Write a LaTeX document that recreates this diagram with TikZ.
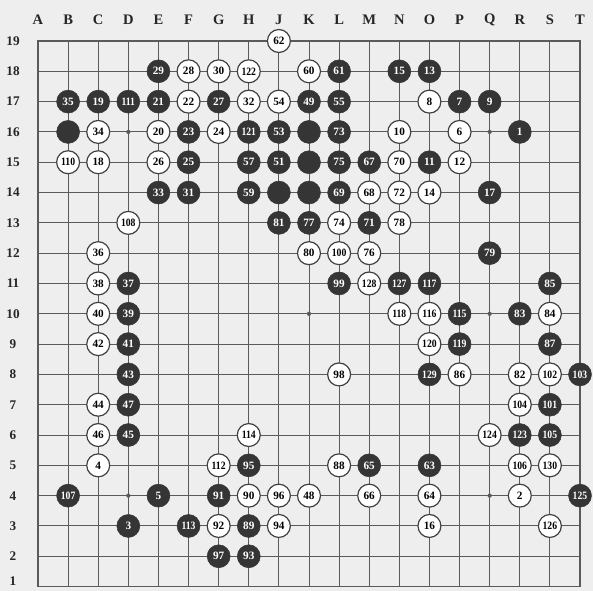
\documentclass[tikz,border=0pt]{standalone}
\usepackage{fontspec}
\setmainfont{Liberation Serif}
\usepackage{xcolor}
\usetikzlibrary{arrows.meta, positioning}

\definecolor{paper}{HTML}{EEEEEE}
\definecolor{gridcol}{HTML}{5A5A5A}
\definecolor{stoneblk}{HTML}{353535}
\newcommand{\mvnum}[1]{\ifnum#1>99 \scalebox{.86}[1]{#1}\else #1\fi}

\begin{document}
\begin{tikzpicture}[
  x=0.8cm, y=0.8053cm,
  every node/.style={font=\bfseries},
  gridline/.style={draw=gridcol, line width=0.7pt},
  border/.style={draw=gridcol, line width=1pt},
  collab/.style={font=\bfseries\fontsize{11}{11}\selectfont, text=black!85},
  rowlab/.style={font=\bfseries\fontsize{10}{10}\selectfont, text=black!85},
  bstone/.style={circle, draw=stoneblk, fill=stoneblk, text=white, minimum size=0.61cm, inner sep=0pt, font=\bfseries\fontsize{8.5}{8.5}\selectfont},
  wstone/.style={circle, draw=black!75, line width=0.9pt, fill=white, text=black, minimum size=0.61cm, inner sep=0pt, font=\bfseries\fontsize{8.5}{8.5}\selectfont},
]

 % ---- paper and frame ----
 \fill[paper] (-0.262,0.868) rectangle (19.432,20.353);
 \useasboundingbox (-0.262,0.868) rectangle (19.432,20.353);

 % ---- points of the board ----
 \foreach \l [count=\i] in {A,B,C,D,E,F,G,H,J,K,L,M,N,O,P,Q,R,S,T} {
   \foreach \r in {1,...,19} {
     \coordinate (\l\r) at (\i,\r);
   }
   \node[collab] (col\l) at (\i,19.69) {\l};
 }
 \foreach \r in {2,...,19} {
   \node[rowlab] (row\r) at (0.17,\r) {\r};
 }
 \node[rowlab, anchor=south] (row1) at (0.17,0.87) {1};

 % ---- grid ----
 \foreach \r in {2,...,18} {
   \draw[gridline] (A\r) -- (T\r);
 }
 \foreach \l in {B,C,D,E,F,G,H,J,K,L,M,N,O,P,Q,R,S} {
   \draw[gridline] (\l1) -- (\l19);
 }
 \draw[border] (A1) rectangle (T19);
 \foreach \p in {D4,K4,Q4,D10,K10,Q10,D16,K16,Q16} {
   \fill[gridcol] (\p) circle (1.6pt);
 }

 % ---- black stones ----
 \foreach \p in {B16,K16,K15,J14,K14} {
   \node[bstone] (b-\p) at (\p) {};
 }
 \foreach \p/\n in {R16/1, D3/3, E4/5, P17/7, Q17/9, O15/11, O18/13, N18/15, Q14/17, C17/19,
   E17/21, F16/23, F15/25, G17/27, E18/29, F14/31, E14/33, B17/35, D11/37, D10/39,
   D9/41, D8/43, D6/45, D7/47, K17/49, J15/51, J16/53, L17/55, H15/57, H14/59,
   L18/61, O5/63, M5/65, M15/67, L14/69, M13/71, L16/73, L15/75, K13/77, Q12/79,
   J13/81, R10/83, S11/85, S9/87, H3/89, G4/91, H2/93, H5/95, G2/97, L11/99,
   S7/101, T8/103, S6/105, B4/107, D17/111, F3/113, P10/115, O11/117, P9/119,
   H16/121, R6/123, T4/125, N11/127, O8/129} {
   \node[bstone] (m\n) at (\p) {\mvnum{\n}};
 }

 % ---- white stones ----
 \foreach \p/\n in {R4/2, C5/4, P16/6, O17/8, N16/10, P15/12, O14/14, O3/16, C15/18, E16/20,
   F17/22, G16/24, E15/26, F18/28, G18/30, H17/32, C16/34, C12/36, C11/38, C10/40,
   C9/42, C7/44, C6/46, K4/48, J17/54, K18/60, J19/62, O4/64, M4/66, M14/68,
   N15/70, N14/72, L13/74, M12/76, N13/78, K12/80, R8/82, S10/84, P8/86, L5/88,
   H4/90, G3/92, J3/94, J4/96, L8/98, L12/100, S8/102, R7/104, R5/106, D13/108,
   B15/110, G5/112, H6/114, O10/116, N10/118, O9/120, H18/122, Q6/124, S3/126,
   M11/128, S5/130} {
   \node[wstone] (m\n) at (\p) {\mvnum{\n}};
 }

\end{tikzpicture}
\end{document}
